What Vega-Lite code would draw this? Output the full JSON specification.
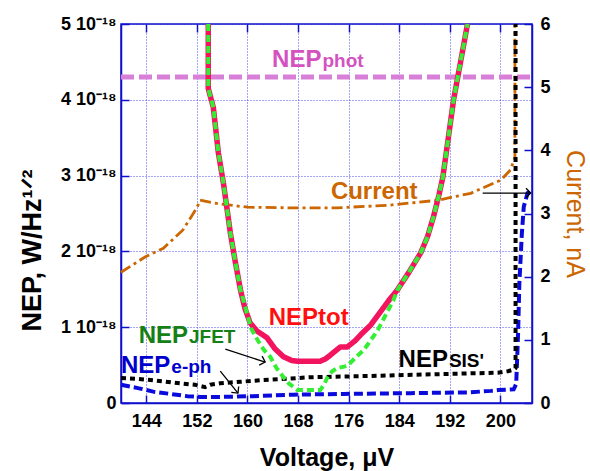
{
  "$schema": "https://vega.github.io/schema/vega-lite/v6.json",
  "width": 411,
  "height": 379,
  "autosize": {"type": "none"},
  "padding": {"left": 121, "top": 24, "right": 58, "bottom": 68},
  "background": "white",
  "config": {
    "font": "Liberation Sans",
    "view": {"stroke": "#1010CC", "strokeWidth": 1.5},
    "axis": {
      "domainColor": "#1010CC",
      "domainWidth": 1.5,
      "tickColor": "#1010CC",
      "tickWidth": 1.5,
      "labelFontSize": 18,
      "labelFontWeight": "bold",
      "labelColor": "black",
      "titleFontSize": 25,
      "titleFontWeight": "bold",
      "titleColor": "black",
      "gridColor": "#2020EE",
      "gridDash": [1, 2],
      "gridOpacity": 0.8,
      "gridWidth": 1
    }
  },
  "datasets": {
    "phot": [{"V": 140, "NEP": 4.3}, {"V": 205, "NEP": 4.3}],
    "tot": [
      {"V": 153.8, "NEP": 5.0}, {"V": 153.8, "NEP": 4.15}, {"V": 154.6, "NEP": 3.9}, {"V": 155.4, "NEP": 3.3},
      {"V": 156.2, "NEP": 2.9}, {"V": 157.3, "NEP": 2.24}, {"V": 158.1, "NEP": 1.85}, {"V": 158.9, "NEP": 1.49},
      {"V": 159.6, "NEP": 1.25}, {"V": 160.4, "NEP": 1.06}, {"V": 161.5, "NEP": 0.95}, {"V": 163.1, "NEP": 0.86},
      {"V": 164.3, "NEP": 0.72}, {"V": 165.7, "NEP": 0.61}, {"V": 167.0, "NEP": 0.56}, {"V": 167.9, "NEP": 0.55},
      {"V": 171.5, "NEP": 0.55}, {"V": 172.3, "NEP": 0.58}, {"V": 173.1, "NEP": 0.63}, {"V": 174.7, "NEP": 0.74},
      {"V": 175.8, "NEP": 0.74}, {"V": 177.0, "NEP": 0.82}, {"V": 177.9, "NEP": 0.9}, {"V": 179.5, "NEP": 1.03},
      {"V": 181.0, "NEP": 1.2}, {"V": 182.6, "NEP": 1.38}, {"V": 183.7, "NEP": 1.49}, {"V": 185.5, "NEP": 1.72},
      {"V": 187.4, "NEP": 1.98}, {"V": 188.5, "NEP": 2.2}, {"V": 189.4, "NEP": 2.45}, {"V": 190.3, "NEP": 2.75},
      {"V": 190.9, "NEP": 2.98}, {"V": 191.5, "NEP": 3.34}, {"V": 192.1, "NEP": 3.7}, {"V": 192.6, "NEP": 4.0},
      {"V": 193.7, "NEP": 4.5}, {"V": 194.8, "NEP": 5.0}
    ],
    "jfet": [
      {"V": 153.8, "NEP": 5.0}, {"V": 153.8, "NEP": 4.15}, {"V": 154.6, "NEP": 3.9}, {"V": 155.4, "NEP": 3.3},
      {"V": 156.2, "NEP": 2.9}, {"V": 157.3, "NEP": 2.24}, {"V": 158.1, "NEP": 1.85}, {"V": 158.9, "NEP": 1.49},
      {"V": 159.7, "NEP": 1.25}, {"V": 160.6, "NEP": 0.98}, {"V": 161.6, "NEP": 0.83}, {"V": 162.6, "NEP": 0.7},
      {"V": 163.6, "NEP": 0.61}, {"V": 164.6, "NEP": 0.46}, {"V": 165.7, "NEP": 0.34}, {"V": 166.5, "NEP": 0.26},
      {"V": 167.3, "NEP": 0.21}, {"V": 167.9, "NEP": 0.17}, {"V": 171.5, "NEP": 0.17}, {"V": 172.1, "NEP": 0.24},
      {"V": 172.6, "NEP": 0.33}, {"V": 173.4, "NEP": 0.42}, {"V": 174.2, "NEP": 0.46}, {"V": 175.8, "NEP": 0.49},
      {"V": 177.1, "NEP": 0.6}, {"V": 178.4, "NEP": 0.7}, {"V": 179.5, "NEP": 0.83}, {"V": 180.6, "NEP": 0.96},
      {"V": 181.9, "NEP": 1.17}, {"V": 183.1, "NEP": 1.36}, {"V": 183.7, "NEP": 1.49}, {"V": 185.5, "NEP": 1.72},
      {"V": 187.4, "NEP": 1.98}, {"V": 188.5, "NEP": 2.2}, {"V": 189.4, "NEP": 2.45}, {"V": 190.3, "NEP": 2.75},
      {"V": 190.9, "NEP": 2.98}, {"V": 191.5, "NEP": 3.34}, {"V": 192.1, "NEP": 3.7}, {"V": 192.6, "NEP": 4.0},
      {"V": 193.7, "NEP": 4.5}, {"V": 194.8, "NEP": 5.0}
    ],
    "sis": [
      {"V": 140, "NEP": 0.33}, {"V": 142.5, "NEP": 0.32}, {"V": 145.1, "NEP": 0.3}, {"V": 149.3, "NEP": 0.26},
      {"V": 151.7, "NEP": 0.24}, {"V": 153.3, "NEP": 0.21}, {"V": 154.1, "NEP": 0.24}, {"V": 155.7, "NEP": 0.26},
      {"V": 158.9, "NEP": 0.28}, {"V": 162, "NEP": 0.3}, {"V": 170, "NEP": 0.34}, {"V": 181, "NEP": 0.36},
      {"V": 190, "NEP": 0.38}, {"V": 199.6, "NEP": 0.4}, {"V": 201.2, "NEP": 0.42}, {"V": 202.1, "NEP": 0.44},
      {"V": 202.4, "NEP": 0.46}, {"V": 202.4, "NEP": 5.0}
    ],
    "eph": [
      {"V": 140, "NEP": 0.24}, {"V": 142.5, "NEP": 0.2}, {"V": 145.1, "NEP": 0.15}, {"V": 147.8, "NEP": 0.12},
      {"V": 150.5, "NEP": 0.09}, {"V": 152.5, "NEP": 0.08}, {"V": 155.7, "NEP": 0.08}, {"V": 160.9, "NEP": 0.09},
      {"V": 167.3, "NEP": 0.11}, {"V": 175.2, "NEP": 0.12}, {"V": 185.8, "NEP": 0.13}, {"V": 195, "NEP": 0.14},
      {"V": 198.5, "NEP": 0.16}, {"V": 199.6, "NEP": 0.17}, {"V": 202.1, "NEP": 0.18}, {"V": 202.5, "NEP": 0.25},
      {"V": 202.8, "NEP": 0.92}, {"V": 203.0, "NEP": 1.58}, {"V": 203.4, "NEP": 2.24}, {"V": 203.7, "NEP": 2.59},
      {"V": 204.3, "NEP": 2.77}, {"V": 205, "NEP": 2.81}
    ],
    "cur": [
      {"V": 140, "I": 2.07}, {"V": 143.8, "I": 2.31}, {"V": 146.7, "I": 2.45}, {"V": 149.8, "I": 2.74},
      {"V": 152.0, "I": 3.09}, {"V": 152.5, "I": 3.21}, {"V": 155.7, "I": 3.15}, {"V": 160.0, "I": 3.1},
      {"V": 166.3, "I": 3.09}, {"V": 174.2, "I": 3.09}, {"V": 182.2, "I": 3.13}, {"V": 190.1, "I": 3.21},
      {"V": 195.3, "I": 3.32}, {"V": 200.1, "I": 3.53}, {"V": 201.6, "I": 3.69}, {"V": 202.3, "I": 3.89},
      {"V": 202.3, "I": 6.0}
    ],
    "labels": [
      {"series": "phot", "main": "NEP", "sub": "phot", "V": 171.7, "NEP": 4.43},
      {"series": "cur", "main": "Current", "sub": "", "V": 186.9, "NEP": 2.69},
      {"series": "tot", "main": "NEPtot", "sub": "", "V": 176.0, "NEP": 1.03},
      {"series": "jfet", "main": "NEP", "sub": "JFET", "V": 150.6, "NEP": 0.79},
      {"series": "eph", "main": "NEP", "sub": "e-ph", "V": 147.8, "NEP": 0.4},
      {"series": "sis", "main": "NEP", "sub": "SIS'", "V": 191.7, "NEP": 0.475}
    ],
    "arrows": [
      {"id": "cur", "V": 197.2, "NEP": 2.77, "V2": 204.8, "NEP2": 2.77},
      {"id": "jfet", "V": 156.5, "NEP": 0.71, "V2": 162.8, "NEP2": 0.54},
      {"id": "eph", "V": 155.7, "NEP": 0.42, "V2": 158.5, "NEP2": 0.13}
    ]
  },
  "resolve": {"scale": {"y": "independent"}, "axis": {"x": "independent", "y": "independent"}},
  "layer": [
    {
      "data": {"name": "phot"},
      "mark": {"type": "line", "color": "#D87FD8", "strokeWidth": 5, "strokeDash": [13, 5]},
      "encoding": {
        "x": {"field": "V", "type": "quantitative", "scale": {"domain": [140, 205], "nice": false, "zero": false},
          "axis": {"orient": "bottom", "values": [144, 152, 160, 168, 176, 184, 192, 200], "title": "Voltage, μV",
            "grid": true, "tickSize": -8, "labelPadding": 17, "titlePadding": 15}},
        "y": {"field": "NEP", "type": "quantitative", "scale": {"domain": [0, 5], "nice": false, "zero": false},
          "axis": {"orient": "left", "values": [0, 1, 2, 3, 4, 5], "grid": true, "tickSize": -8, "labelPadding": 13,
            "labelExpr": "datum.value == 0 ? '0' : datum.value + ' 10⁻¹⁸'", "title": "NEP, W/Hz¹ᐟ²",
            "titleFontSize": 27, "titlePadding": 14, "titleY": 226}},
        "order": {"value": null}
      }
    },
    {
      "data": {"name": "cur"},
      "mark": {"type": "line", "color": "#CC6600", "strokeWidth": 2.8, "strokeDash": [11, 4, 3, 4]},
      "encoding": {
        "x": {"field": "V", "type": "quantitative", "scale": {"domain": [140, 205], "nice": false, "zero": false},
          "axis": {"orient": "top", "values": [144, 152, 160, 168, 176, 184, 192, 200], "labels": false, "title": null,
            "grid": false, "tickSize": -8, "domain": false}},
        "y": {"field": "I", "type": "quantitative", "scale": {"domain": [0, 6], "nice": false, "zero": false},
          "axis": {"orient": "right", "values": [0, 1, 2, 3, 4, 5, 6], "grid": false, "tickSize": -8, "labelPadding": 16,
            "title": "Current, nA", "titleColor": "#CC6600", "titleFontWeight": "normal", "titleFontSize": 25, "titlePadding": 11}},
        "order": {"value": null}
      }
    },
    {
      "data": {"name": "eph"},
      "mark": {"type": "line", "color": "#0A0ADD", "strokeWidth": 4, "strokeDash": [9, 4]},
      "encoding": {
        "x": {"field": "V", "type": "quantitative", "scale": {"domain": [140, 205], "nice": false, "zero": false}, "axis": null},
        "y": {"field": "NEP", "type": "quantitative", "scale": {"domain": [0, 5], "nice": false, "zero": false}, "axis": null},
        "order": {"value": null}
      }
    },
    {
      "data": {"name": "sis"},
      "mark": {"type": "line", "color": "#000000", "strokeWidth": 4, "strokeDash": [5, 4]},
      "encoding": {
        "x": {"field": "V", "type": "quantitative", "scale": {"domain": [140, 205], "nice": false, "zero": false}, "axis": null},
        "y": {"field": "NEP", "type": "quantitative", "scale": {"domain": [0, 5], "nice": false, "zero": false}, "axis": null},
        "order": {"value": null}
      }
    },
    {
      "data": {"name": "tot"},
      "mark": {"type": "line", "color": "#F2145E", "strokeWidth": 5.5, "strokeJoin": "round"},
      "encoding": {
        "x": {"field": "V", "type": "quantitative", "scale": {"domain": [140, 205], "nice": false, "zero": false}, "axis": null},
        "y": {"field": "NEP", "type": "quantitative", "scale": {"domain": [0, 5], "nice": false, "zero": false}, "axis": null},
        "order": {"value": null}
      }
    },
    {
      "data": {"name": "jfet"},
      "mark": {"type": "line", "color": "#33EE33", "strokeWidth": 4, "strokeDash": [7, 4]},
      "encoding": {
        "x": {"field": "V", "type": "quantitative", "scale": {"domain": [140, 205], "nice": false, "zero": false}, "axis": null},
        "y": {"field": "NEP", "type": "quantitative", "scale": {"domain": [0, 5], "nice": false, "zero": false}, "axis": null},
        "order": {"value": null}
      }
    },
    {
      "data": {"name": "arrows"},
      "mark": {"type": "rule", "color": "black", "strokeWidth": 1.3},
      "encoding": {
        "x": {"field": "V", "type": "quantitative", "scale": {"domain": [140, 205], "nice": false, "zero": false}, "axis": null},
        "y": {"field": "NEP", "type": "quantitative", "scale": {"domain": [0, 5], "nice": false, "zero": false}, "axis": null},
        "x2": {"field": "V2"},
        "y2": {"field": "NEP2"}
      }
    },
    {
      "data": {"name": "arrows"},
      "transform": [{"filter": "datum.id == 'cur'"}],
      "mark": {"type": "point", "shape": "M -1 -1 L 0 0 L -1 1", "filled": false, "stroke": "black", "strokeWidth": 1.3, "size": 90, "angle": 0, "opacity": 1},
      "encoding": {
        "x": {"field": "V2", "type": "quantitative", "scale": {"domain": [140, 205], "nice": false, "zero": false}, "axis": null},
        "y": {"field": "NEP2", "type": "quantitative", "scale": {"domain": [0, 5], "nice": false, "zero": false}, "axis": null}
      }
    },
    {
      "data": {"name": "arrows"},
      "transform": [{"filter": "datum.id == 'jfet'"}],
      "mark": {"type": "point", "shape": "M -1 -1 L 0 0 L -1 1", "filled": false, "stroke": "black", "strokeWidth": 1.3, "size": 90, "angle": 18, "opacity": 1},
      "encoding": {
        "x": {"field": "V2", "type": "quantitative", "scale": {"domain": [140, 205], "nice": false, "zero": false}, "axis": null},
        "y": {"field": "NEP2", "type": "quantitative", "scale": {"domain": [0, 5], "nice": false, "zero": false}, "axis": null}
      }
    },
    {
      "data": {"name": "arrows"},
      "transform": [{"filter": "datum.id == 'eph'"}],
      "mark": {"type": "point", "shape": "M -1 -1 L 0 0 L -1 1", "filled": false, "stroke": "black", "strokeWidth": 1.3, "size": 90, "angle": 51, "opacity": 1},
      "encoding": {
        "x": {"field": "V2", "type": "quantitative", "scale": {"domain": [140, 205], "nice": false, "zero": false}, "axis": null},
        "y": {"field": "NEP2", "type": "quantitative", "scale": {"domain": [0, 5], "nice": false, "zero": false}, "axis": null}
      }
    },
    {
      "data": {"name": "labels"},
      "mark": {"type": "text", "align": "right", "baseline": "alphabetic", "fontSize": 24, "fontWeight": "bold"},
      "encoding": {
        "x": {"field": "V", "type": "quantitative", "scale": {"domain": [140, 205], "nice": false, "zero": false}, "axis": null},
        "y": {"field": "NEP", "type": "quantitative", "scale": {"domain": [0, 5], "nice": false, "zero": false}, "axis": null},
        "text": {"field": "main"},
        "color": {"field": "series", "type": "nominal", "legend": null,
          "scale": {"domain": ["phot", "cur", "tot", "jfet", "eph", "sis"], "range": ["#D452C0", "#CC6600", "#FF1010", "#158015", "#0000CC", "#000000"]}}
      }
    },
    {
      "data": {"name": "labels"},
      "mark": {"type": "text", "align": "left", "baseline": "alphabetic", "fontSize": 19, "fontWeight": "bold", "dx": 1},
      "encoding": {
        "x": {"field": "V", "type": "quantitative", "scale": {"domain": [140, 205], "nice": false, "zero": false}, "axis": null},
        "y": {"field": "NEP", "type": "quantitative", "scale": {"domain": [0, 5], "nice": false, "zero": false}, "axis": null},
        "text": {"field": "sub"},
        "color": {"field": "series", "type": "nominal", "legend": null,
          "scale": {"domain": ["phot", "cur", "tot", "jfet", "eph", "sis"], "range": ["#D452C0", "#CC6600", "#FF1010", "#158015", "#0000CC", "#000000"]}}
      }
    }
  ]
}
